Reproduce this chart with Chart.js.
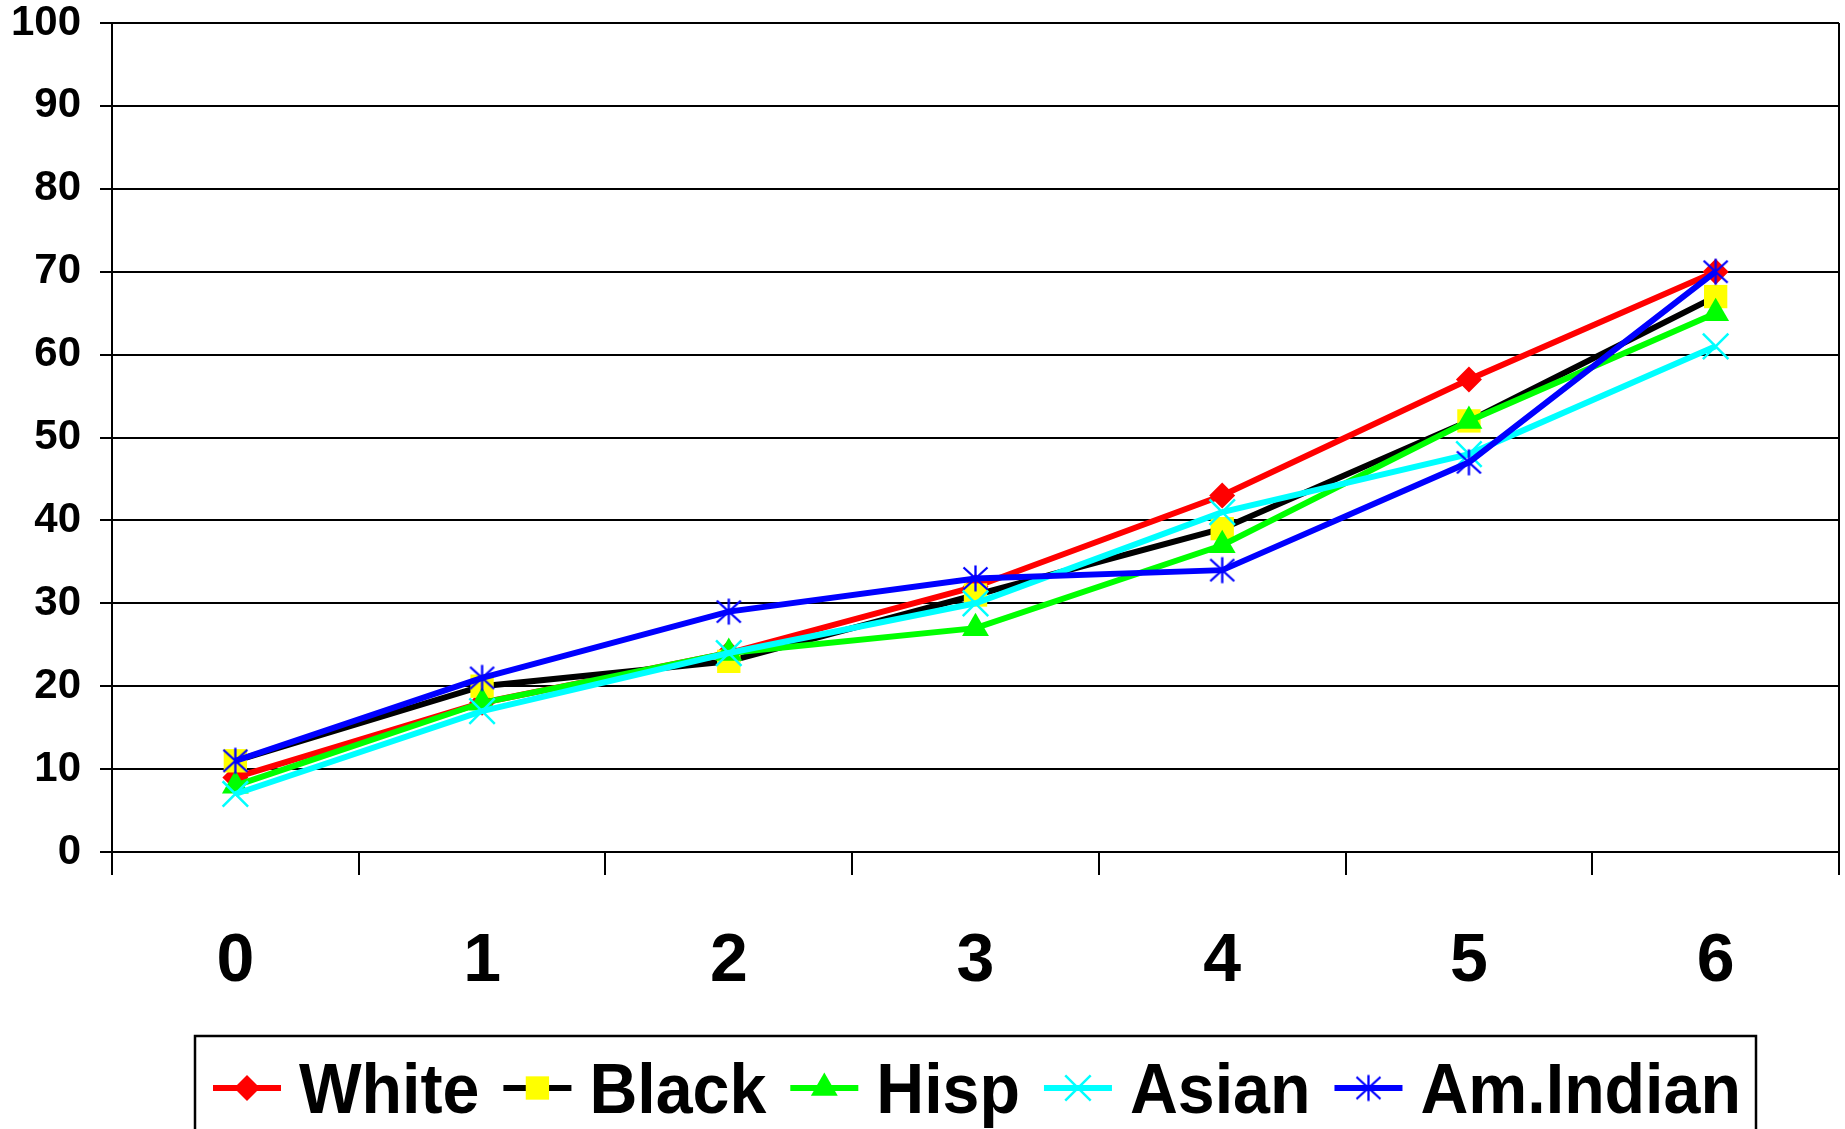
<!DOCTYPE html>
<html>
<head>
<meta charset="utf-8">
<script src="https://cdn.jsdelivr.net/npm/chart.js@4.4.1/dist/chart.umd.min.js"></script>
<style>
  html, body { margin: 0; padding: 0; background: #ffffff; overflow: hidden; }
  canvas { display: block; }
</style>
</head>
<body>
<canvas id="chart" width="1845" height="1129"></canvas>
<script>
// Category labels along the x axis
const categories = ['0', '1', '2', '3', '4', '5', '6'];

// Series values (percent)
const white    = [9, 18, 24, 32, 43, 57, 70];
const black    = [11, 20, 23, 31, 39, 52, 67];
const hisp     = [8, 18, 24, 27, 37, 52, 65];
const asian    = [7, 17, 24, 30, 41, 48, 61];
const amIndian = [11, 21, 29, 33, 34, 47, 70];

const seriesNames = ['White', 'Black', 'Hisp', 'Asian', 'Am.Indian'];

// Y axis range and step
const yMin = 0;
const yMax = 100;
const yStep = 10;

const FONT = '"Liberation Sans", Arial, Helvetica, sans-serif';
const LINE_WIDTH = 6;

// Six-armed asterisk marker (vertical stroke plus an X)
function makeAsterisk(color, half, lw) {
  const size = Math.ceil(2 * half + lw + 2);
  const c = document.createElement('canvas');
  c.width = size; c.height = size;
  const g = c.getContext('2d');
  const m = size / 2;
  g.strokeStyle = color;
  g.lineWidth = lw;
  g.lineCap = 'butt';
  g.beginPath();
  g.moveTo(m, m - half); g.lineTo(m, m + half);
  g.moveTo(m - half + 1, m - half + 2); g.lineTo(m + half - 1, m + half - 2);
  g.moveTo(m + half - 1, m - half + 2); g.lineTo(m - half + 1, m + half - 2);
  g.stroke();
  return c;
}
const asteriskMarker = makeAsterisk('#0000ff', 13, 2.3);

const datasets = [
  { label: seriesNames[0], data: white, borderColor: '#ff0000', backgroundColor: '#ff0000',
    pointBackgroundColor: '#ff0000', pointBorderColor: '#ff0000',
    pointStyle: 'rectRot', pointRadius: 13, pointBorderWidth: 0, order: 5 },
  { label: seriesNames[1], data: black, borderColor: '#000000', backgroundColor: '#ffff00',
    pointBackgroundColor: '#ffff00', pointBorderColor: '#ffff00',
    pointStyle: 'rect', pointRadius: 16.5, pointBorderWidth: 0, order: 4 },
  { label: seriesNames[2], data: hisp, borderColor: '#00ff00', backgroundColor: '#00ff00',
    pointBackgroundColor: '#00ff00', pointBorderColor: '#00ff00',
    pointStyle: 'triangle', pointRadius: 15.5, pointBorderWidth: 0, order: 3 },
  { label: seriesNames[3], data: asian, borderColor: '#00ffff', backgroundColor: '#00ffff',
    pointBackgroundColor: '#00ffff', pointBorderColor: '#00ffff',
    pointStyle: 'crossRot', pointRadius: 18, pointBorderWidth: 2.5, order: 2 },
  { label: seriesNames[4], data: amIndian, borderColor: '#0000ff', backgroundColor: '#0000ff',
    pointBackgroundColor: '#0000ff', pointBorderColor: '#0000ff',
    pointStyle: asteriskMarker, pointRadius: 13, pointBorderWidth: 0, order: 1 }
].map(d => Object.assign({ borderWidth: LINE_WIDTH, tension: 0, fill: false, clip: false }, d));

// Right-hand frame line of the plot area
const frameRight = {
  id: 'frameRight',
  afterDraw(chart) {
    const { ctx, chartArea: a } = chart;
    ctx.save();
    ctx.strokeStyle = '#000000';
    ctx.lineWidth = 2;
    ctx.beginPath();
    ctx.moveTo(a.right, a.top);
    ctx.lineTo(a.right, a.bottom);
    ctx.stroke();
    ctx.restore();
  }
};

// Boxed horizontal legend below the axis
const boxedLegend = {
  id: 'boxedLegend',
  afterDraw(chart) {
    const ctx = chart.ctx;
    const box = { left: 195, top: 1036, right: 1756, bottom: 1150 };
    const cy = 1088;
    const lineLen = 68;
    const textScale = 0.947;
    ctx.save();
    ctx.strokeStyle = '#000000';
    ctx.lineWidth = 2.5;
    ctx.strokeRect(box.left, box.top, box.right - box.left, box.bottom - box.top);

    ctx.font = 'bold 70px ' + FONT;
    ctx.textBaseline = 'alphabetic';
    ctx.textAlign = 'left';
    let x = 213;
    chart.data.datasets.forEach(ds => {
      // line sample
      ctx.strokeStyle = ds.borderColor;
      ctx.lineWidth = LINE_WIDTH;
      ctx.beginPath();
      ctx.moveTo(x, cy);
      ctx.lineTo(x + lineLen, cy);
      ctx.stroke();
      // marker sample
      ctx.fillStyle = ds.pointBackgroundColor;
      ctx.strokeStyle = ds.pointBorderColor;
      ctx.lineWidth = ds.pointBorderWidth;
      Chart.helpers.drawPoint(ctx, {
        pointStyle: ds.pointStyle, radius: ds.pointRadius,
        borderWidth: ds.pointBorderWidth, rotation: 0
      }, x + lineLen / 2, cy);
      // label
      const tx = x + lineLen + 18;
      ctx.fillStyle = '#000000';
      ctx.save();
      ctx.translate(tx, 1113);
      ctx.scale(textScale, 1);
      ctx.fillText(ds.label, 0, 0);
      ctx.restore();
      x = tx + ctx.measureText(ds.label).width * textScale + 24;
    });
    ctx.restore();
  }
};

new Chart(document.getElementById('chart'), {
  type: 'line',
  data: { labels: categories, datasets },
  options: {
    responsive: false,
    animation: false,
    events: [],
    layout: { autoPadding: false, padding: { top: 23, right: 6, bottom: 0, left: 0 } },
    plugins: {
      legend: { display: false },
      title: { display: false },
      tooltip: { enabled: false }
    },
    scales: {
      x: {
        type: 'category',
        offset: true,
        grid: {
          offset: true,
          drawOnChartArea: false,
          drawTicks: true,
          tickLength: 23,
          color: '#000000',
          lineWidth: 2
        },
        border: { display: true, color: '#000000', width: 2 },
        ticks: {
          color: '#000000',
          font: { family: FONT, size: 68, weight: 'bold', lineHeight: 1.2 },
          padding: 46,
          maxRotation: 0,
          autoSkip: false
        },
        afterFit(scale) { scale.height = 277; }
      },
      y: {
        min: yMin,
        max: yMax,
        grid: {
          color: '#000000',
          lineWidth: 2,
          tickLength: 12,
          drawTicks: true
        },
        border: { display: true, color: '#000000', width: 2 },
        ticks: {
          stepSize: yStep,
          color: '#000000',
          font: { family: FONT, size: 42, weight: 'bold', lineHeight: 1.0 },
          padding: 19
        },
        afterFit(scale) {
          scale.width = 112;
          scale.paddingTop = 0;
          scale.paddingBottom = 0;
        }
      }
    }
  },
  plugins: [frameRight, boxedLegend]
});
</script>
</body>
</html>
